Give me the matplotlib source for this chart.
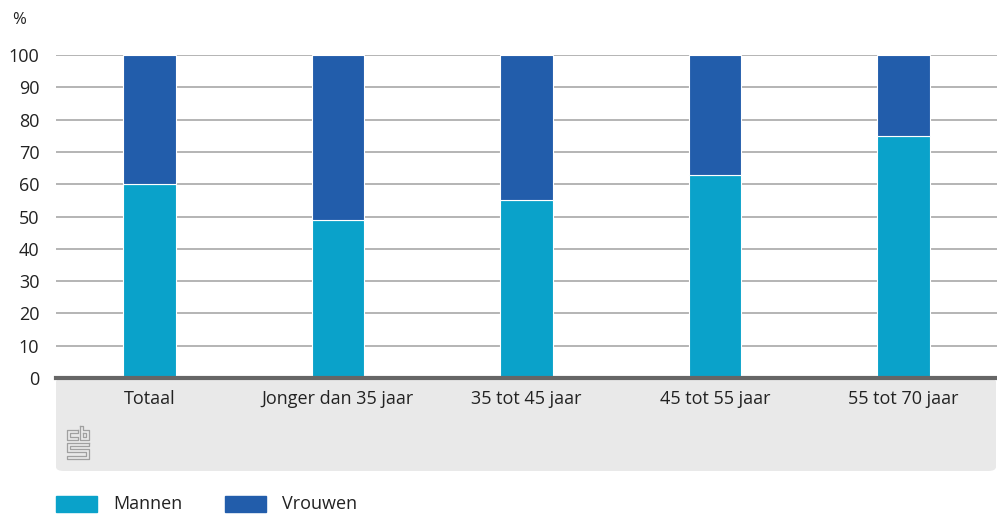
import matplotlib.pyplot as plt
import numpy as np
from matplotlib.patches import FancyBboxPatch, Rectangle
from matplotlib.lines import Line2D

categories = ['Totaal', 'Jonger dan 35 jaar', '35 tot 45 jaar', '45 tot 55 jaar', '55 tot 70 jaar']
mannen = [60, 49, 55, 63, 75]
vrouwen = [40, 51, 45, 37, 25]

c_man = '#0aa2ca'
c_vrouw = '#225dab'

plt.rcParams['font.family'] = ['Open Sans', 'DejaVu Sans']

W, H = 997, 514
fig = plt.figure(figsize=(W / 100, H / 100), dpi=100)

# grey panel under the x-axis
panel = FancyBboxPatch((56 / W, (H - 471) / H), (W - 56 - 1) / W, 93 / H,
                       boxstyle='round,pad=0,rounding_size=0.008',
                       transform=fig.transFigure, facecolor='#e9e9e9',
                       edgecolor='none', zorder=-5)
fig.patches.append(panel)

ax = fig.add_axes([56 / W, (H - 378) / H, (W - 56) / W, (378 - 55) / H])
ax.patch.set_alpha(0)

x = np.arange(len(categories))
ax.bar(x, mannen, width=0.28, color=c_man, edgecolor='white', linewidth=0.8, zorder=3)
ax.bar(x, vrouwen, width=0.28, bottom=mannen, color=c_vrouw, edgecolor='white',
       linewidth=0.8, zorder=3)

ax.set_xlim(-0.495, len(categories) - 0.505)
ax.set_ylim(0, 100)
ax.set_yticks(range(0, 101, 10))
ax.yaxis.grid(True, color='#a0a0a0', linewidth=1.1)
ax.set_axisbelow(True)
for s in ['top', 'right', 'left']:
    ax.spines[s].set_visible(False)
ax.spines['bottom'].set_color('#666666')
ax.spines['bottom'].set_linewidth(3)
ax.spines['bottom'].set_zorder(4)
ax.tick_params(axis='y', length=0, pad=12, labelsize=13, labelcolor='#222222')
ax.tick_params(axis='x', length=0, pad=9, labelsize=13, labelcolor='#222222')
ax.set_xticks(x)
ax.set_xticklabels(categories)

fig.text(12 / W, 1 - 20 / H, '%', fontsize=12, color='#222222', va='center')

# simple cbs logo
lc = '#a0a0a0'
def fline(pts):
    xs = [p[0] / W for p in pts]
    ys = [1 - p[1] / H for p in pts]
    fig.lines.append(Line2D(xs, ys, transform=fig.transFigure, color=lc,
                            linewidth=0.9))
# c
fline([(78, 430), (67, 430), (67, 440), (78, 440), (78, 437), (70, 437), (70, 433), (78, 433), (78, 430)])
# b
fline([(80, 426), (80, 440), (89, 440), (89, 430), (83, 430), (83, 426), (80, 426)])
fline([(83, 433), (86, 433), (86, 437), (83, 437), (83, 433)])
# s
fline([(89, 443), (67, 443), (67, 452), (86, 452), (86, 456), (67, 456), (67, 459),
       (89, 459), (89, 449), (70, 449), (70, 446), (89, 446), (89, 443)])

# legend
for px, name, col in [(56, 'Mannen', c_man), (225, 'Vrouwen', c_vrouw)]:
    fig.patches.append(Rectangle((px / W, 1 - 512 / H), 41 / W, 16 / H,
                                 transform=fig.transFigure, color=col))
    fig.text((px + 57) / W, 1 - 504 / H, name, fontsize=13, color='#222222',
             va='center')

fig.savefig('out.png', dpi=100)
